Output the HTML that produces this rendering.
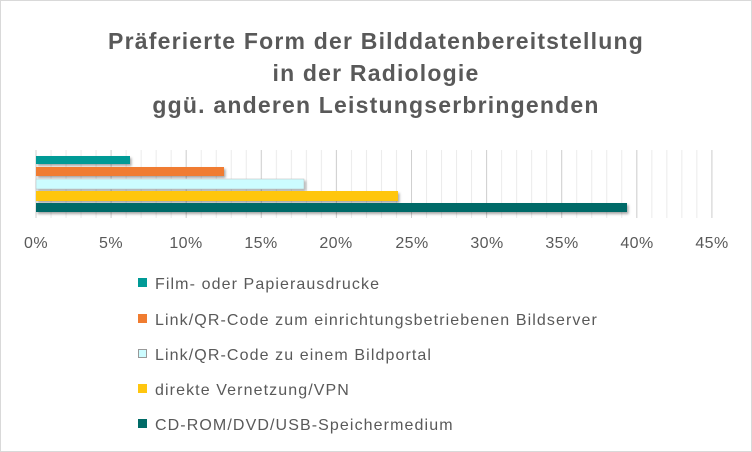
<!DOCTYPE html>
<html><head><meta charset="utf-8"><style>
body{margin:0;background:#fff}
.c{position:relative;width:750px;height:450px;border:1px solid #d9d9d9;font-family:"Liberation Sans",sans-serif;overflow:hidden}
.t{position:absolute;left:0;width:750px;text-align:center;font-weight:bold;font-size:23px;letter-spacing:1.2px;color:#595959}
</style></head><body><div class="c">
<div class="t" style="top:27px">Präferierte Form der Bilddatenbereitstellung</div>
<div class="t" style="top:59px">in der Radiologie</div>
<div class="t" style="top:91px">ggü. anderen Leistungserbringenden</div>
<svg width="750" height="450" style="position:absolute;left:0;top:0" font-family="Liberation Sans, sans-serif">
<defs>
<filter id="s" x="-5%" y="-50%" width="110%" height="200%"><feDropShadow dx="1.5" dy="2" stdDeviation="1.2" flood-color="#000" flood-opacity="0.35"/></filter>
<pattern id="p" x="34.5" y="0" width="15.02" height="10" patternUnits="userSpaceOnUse"><rect x="0" y="0" width="1" height="10" fill="#ebebeb"/></pattern>
</defs>
<rect x="34" y="149" width="680" height="68" fill="url(#p)"/>
<g stroke="#d0d0d0" stroke-width="1">
<line x1="35" x2="35" y1="149" y2="217"/><line x1="110.1" x2="110.1" y1="149" y2="217"/><line x1="185.2" x2="185.2" y1="149" y2="217"/><line x1="260.3" x2="260.3" y1="149" y2="217"/><line x1="335.4" x2="335.4" y1="149" y2="217"/><line x1="410.5" x2="410.5" y1="149" y2="217"/><line x1="485.6" x2="485.6" y1="149" y2="217"/><line x1="560.7" x2="560.7" y1="149" y2="217"/><line x1="635.8" x2="635.8" y1="149" y2="217"/><line x1="710.9" x2="710.9" y1="149" y2="217"/>
</g>
<g filter="url(#s)">
<rect x="35" y="155" width="94" height="8" fill="#009a96"/>
<rect x="35" y="166" width="188" height="9" fill="#f07c30"/>
<rect x="35" y="178" width="268" height="10" fill="#ccfcff" stroke="#bbb" stroke-width="0.5"/>
<rect x="35" y="190" width="362" height="10" fill="#ffc60f"/>
<rect x="35" y="202" width="591" height="9" fill="#006b67"/>
</g>
<g font-size="16" fill="#595959" text-anchor="middle" letter-spacing="0.4">
<text x="35" y="247">0%</text><text x="110" y="247">5%</text><text x="185" y="247">10%</text><text x="260" y="247">15%</text><text x="335" y="247">20%</text><text x="411" y="247">25%</text><text x="486" y="247">30%</text><text x="561" y="247">35%</text><text x="636" y="247">40%</text><text x="711" y="247">45%</text>
</g>
<g font-size="16" fill="#595959" letter-spacing="1.1">
<rect x="137" y="277" width="9" height="9" fill="#009a96"/><text x="154" y="288">Film- oder Papierausdrucke</text>
<rect x="137" y="313" width="9" height="9" fill="#f07c30"/><text x="154" y="324">Link/QR-Code zum einrichtungsbetriebenen Bildserver</text>
<rect x="137.5" y="348.5" width="8" height="8" fill="#ccfcff" stroke="#999" stroke-width="1"/><text x="154" y="359">Link/QR-Code zu einem Bildportal</text>
<rect x="137" y="383" width="9" height="9" fill="#ffc60f"/><text x="154" y="394">direkte Vernetzung/VPN</text>
<rect x="137" y="418" width="9" height="9" fill="#006b67"/><text x="154" y="429">CD-ROM/DVD/USB-Speichermedium</text>
</g>
</svg></div></body></html>
